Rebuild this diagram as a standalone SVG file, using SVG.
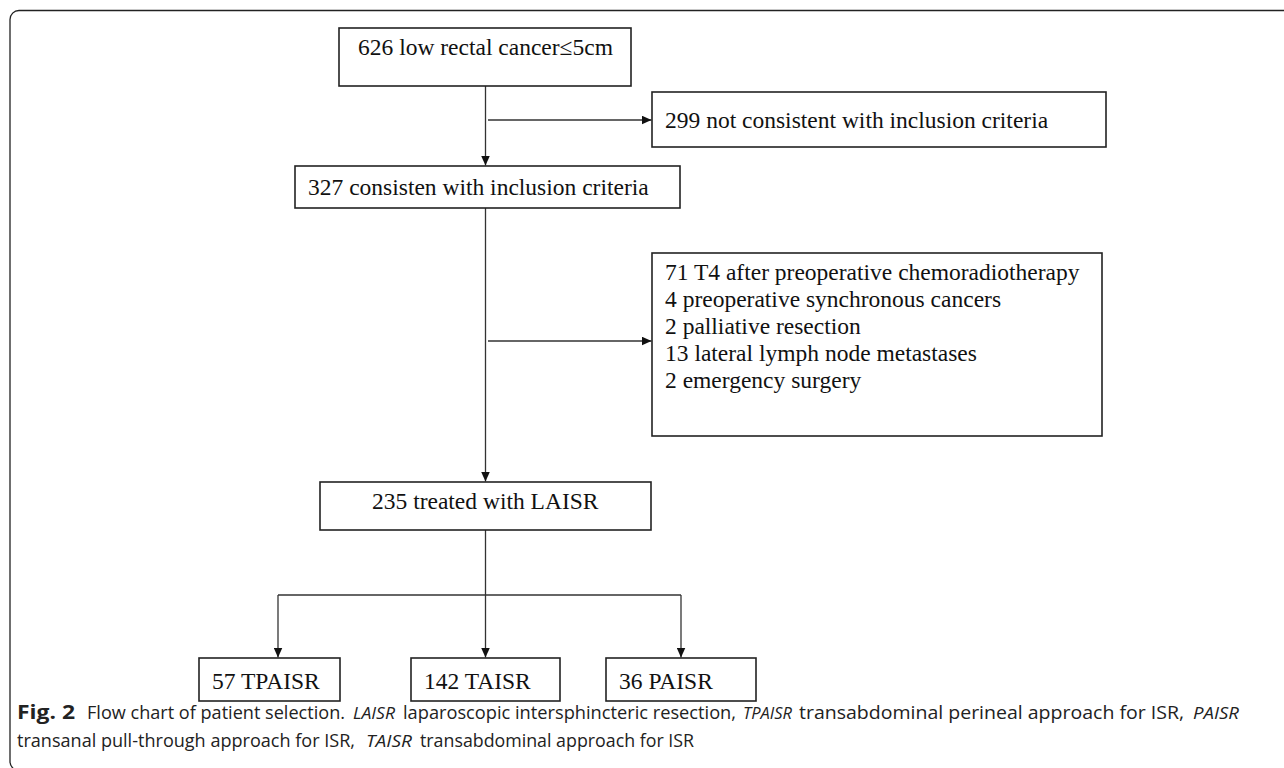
<svg xmlns="http://www.w3.org/2000/svg" width="1284" height="768" viewBox="0 0 1284 768">
<style>
.box{fill:#fff;stroke:#222;stroke-width:1.6}
.t{font-family:"Liberation Serif","Times New Roman",serif;font-size:23.5px;fill:#111}
.c{fill:none;stroke:#333;stroke-width:1.3}
.cap{font-family:"Open Sans","Noto Sans",sans-serif;font-size:18px;fill:#222}
.b{font-weight:bold;font-size:19px}
.i{font-style:italic;font-size:16.5px}
</style>
<defs>
<marker id="ah" markerUnits="userSpaceOnUse" markerWidth="11" markerHeight="9" refX="10" refY="4.5" orient="auto">
<path d="M0,0 L10,4.5 L0,9 z" fill="#111"/>
</marker>
</defs>
<rect x="10" y="10.5" width="1300" height="760" rx="9" fill="#fff" stroke="#222" stroke-width="1.3"/>
<g id="connectors">
<path class="c" d="M485.5 86 V165.5" marker-end="url(#ah)"/>
<path class="c" d="M488 120 H651.5" marker-end="url(#ah)"/>
<path class="c" d="M485.5 208 V481.5" marker-end="url(#ah)"/>
<path class="c" d="M488 341 H651.5" marker-end="url(#ah)"/>
<path class="c" d="M485.5 530 V657.5" marker-end="url(#ah)"/>
<path class="c" d="M278 595 H681"/>
<path class="c" d="M278 595 V657.5" marker-end="url(#ah)"/>
<path class="c" d="M681 595 V657.5" marker-end="url(#ah)"/>
</g>
<g id="n626">
<rect class="box" x="339" y="28" width="292" height="58"/>
<text class="t" x="358" y="55">626 low rectal cancer≤5cm</text>
</g>
<g id="n299">
<rect class="box" x="652" y="92" width="454" height="55"/>
<text class="t" x="665" y="128">299 not consistent with inclusion criteria</text>
</g>
<g id="n327">
<rect class="box" x="295" y="166" width="385" height="42"/>
<text class="t" x="308" y="195">327 consisten with inclusion criteria</text>
</g>
<g id="nexcl">
<rect class="box" x="652" y="253" width="450" height="183"/>
<text class="t" x="665" y="280">71 T4 after preoperative chemoradiotherapy</text>
<text class="t" x="665" y="307">4 preoperative synchronous cancers</text>
<text class="t" x="665" y="334">2 palliative resection</text>
<text class="t" x="665" y="361">13 lateral lymph node metastases</text>
<text class="t" x="665" y="388">2 emergency surgery</text>
</g>
<g id="n235">
<rect class="box" x="320" y="482" width="331" height="48"/>
<text class="t" x="372" y="509">235 treated with LAISR</text>
</g>
<g id="nTPAISR">
<rect class="box" x="199" y="658" width="141" height="43"/>
<text class="t" x="212" y="689">57 TPAISR</text>
</g>
<g id="nTAISR">
<rect class="box" x="411" y="658" width="149" height="43"/>
<text class="t" x="424" y="689">142 TAISR</text>
</g>
<g id="nPAISR">
<rect class="box" x="606" y="658" width="150" height="43"/>
<text class="t" x="619" y="689">36 PAISR</text>
</g>
<g id="caption">
<text class="cap b" x="17" y="719" textLength="58" lengthAdjust="spacingAndGlyphs">Fig. 2</text>
<text class="cap" x="87" y="719" textLength="258" lengthAdjust="spacingAndGlyphs">Flow chart of patient selection.</text>
<text class="cap i" x="353" y="719" textLength="42" lengthAdjust="spacingAndGlyphs">LAISR</text>
<text class="cap" x="403" y="719" textLength="333" lengthAdjust="spacingAndGlyphs">laparoscopic intersphincteric resection,</text>
<text class="cap i" x="743" y="719" textLength="49" lengthAdjust="spacingAndGlyphs">TPAISR</text>
<text class="cap" x="799" y="719" textLength="385" lengthAdjust="spacingAndGlyphs">transabdominal perineal approach for ISR,</text>
<text class="cap i" x="1193" y="719" textLength="46" lengthAdjust="spacingAndGlyphs">PAISR</text>
<text class="cap" x="17" y="747" textLength="338" lengthAdjust="spacingAndGlyphs">transanal pull-through approach for ISR,</text>
<text class="cap i" x="366" y="747" textLength="46" lengthAdjust="spacingAndGlyphs">TAISR</text>
<text class="cap" x="420" y="747" textLength="274" lengthAdjust="spacingAndGlyphs">transabdominal approach for ISR</text>
</g>
</svg>
